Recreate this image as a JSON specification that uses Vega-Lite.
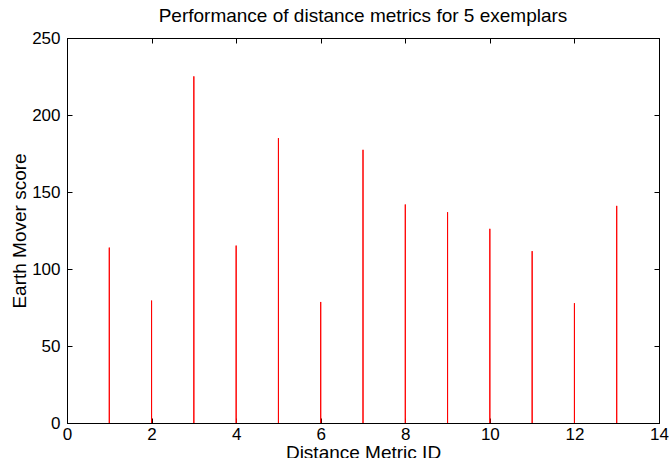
{
  "$schema": "https://vega.github.io/schema/vega-lite/v6.json",
  "width": 592,
  "height": 385,
  "autosize": {"type": "none"},
  "padding": {"left": 67, "top": 38, "right": 10, "bottom": 35},
  "background": "white",
  "title": {
    "text": "Performance of distance metrics for 5 exemplars",
    "font": "Liberation Sans",
    "fontSize": 19,
    "fontWeight": "normal",
    "color": "black",
    "anchor": "middle",
    "offset": 3
  },
  "data": {
    "values": [
      {"id": 1, "score": 113.9},
      {"id": 2, "score": 79.5},
      {"id": 3, "score": 225.1},
      {"id": 4, "score": 115.2},
      {"id": 5, "score": 185.0},
      {"id": 6, "score": 78.6},
      {"id": 7, "score": 177.4},
      {"id": 8, "score": 141.9},
      {"id": 9, "score": 136.9},
      {"id": 10, "score": 126.1},
      {"id": 11, "score": 111.6},
      {"id": 12, "score": 77.8},
      {"id": 13, "score": 141.0}
    ]
  },
  "config": {
    "view": {"stroke": "black", "strokeWidth": 1},
    "axis": {
      "grid": false,
      "labelFont": "Liberation Sans",
      "labelFontSize": 17,
      "labelColor": "black",
      "titleFont": "Liberation Sans",
      "titleFontSize": 19,
      "titleFontWeight": "normal",
      "titleColor": "black",
      "domainColor": "black",
      "tickColor": "black",
      "tickSize": -5
    }
  },
  "resolve": {"axis": {"x": "independent", "y": "independent"}},
  "layer": [
    {
      "mark": {"type": "rule", "color": "#ff0000", "strokeWidth": 1},
      "encoding": {
        "x": {
          "field": "id", "type": "quantitative",
          "scale": {"domain": [0, 14], "nice": false, "zero": false},
          "axis": {"orient": "bottom", "values": [0, 2, 4, 6, 8, 10, 12, 14], "title": "Distance Metric ID", "labelPadding": 8, "titlePadding": 1, "labelFlush": false, "labelOverlap": false}
        },
        "y": {
          "field": "score", "type": "quantitative",
          "scale": {"domain": [0, 250], "nice": false},
          "axis": {"orient": "left", "values": [0, 50, 100, 150, 200, 250], "title": "Earth Mover score", "labelPadding": 12, "titlePadding": 2, "labelFlush": false, "labelOverlap": false}
        },
        "y2": {"datum": 0}
      }
    },
    {
      "mark": {"type": "rule", "color": "#ff0000", "strokeWidth": 1},
      "encoding": {
        "x": {
          "field": "id", "type": "quantitative",
          "axis": {"orient": "top", "values": [0, 2, 4, 6, 8, 10, 12, 14], "labels": false, "title": null}
        },
        "y": {
          "field": "score", "type": "quantitative",
          "axis": {"orient": "right", "values": [0, 50, 100, 150, 200, 250], "labels": false, "title": null}
        },
        "y2": {"datum": 0}
      }
    }
  ]
}
